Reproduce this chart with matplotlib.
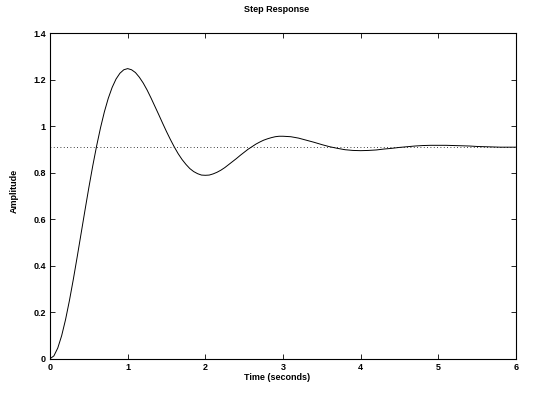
import matplotlib
matplotlib.use("Agg")
import matplotlib.pyplot as plt
import numpy as np

# step response: every 0.05 s up to 3 s, then every 0.1 s
time_s = np.concatenate([np.arange(0, 60) * 0.05, 3.0 + np.arange(0, 31) * 0.1])
amplitude = [
    0.000, 0.012, 0.046, 0.099, 0.168, 0.250, 0.341, 0.438, 0.538, 0.638,
    0.736, 0.829, 0.915, 0.993, 1.062, 1.120, 1.167, 1.203, 1.228, 1.243,
    1.248, 1.243, 1.231, 1.211, 1.186, 1.156, 1.122, 1.086, 1.050, 1.013,
    0.977, 0.943, 0.911, 0.882, 0.857, 0.836, 0.818, 0.805, 0.796, 0.790,
    0.789, 0.790, 0.795, 0.802, 0.811, 0.822, 0.835, 0.848, 0.861, 0.875,
    0.888, 0.901, 0.912, 0.923, 0.932, 0.940, 0.946, 0.951, 0.955, 0.957,
    0.957, 0.955, 0.949, 0.940, 0.931, 0.921, 0.912, 0.905, 0.899, 0.896,
    0.895, 0.896, 0.898, 0.902, 0.905, 0.909, 0.912, 0.915, 0.917, 0.918,
    0.918, 0.918, 0.917, 0.916, 0.915, 0.913, 0.912, 0.911, 0.910, 0.910,
    0.910,
]
steady_state = 0.912

x_ticks = [0, 1, 2, 3, 4, 5, 6]
y_ticks = [0, 0.2, 0.4, 0.6, 0.8, 1.0, 1.2, 1.4]
y_tick_labels = ["0", "0.2", "0.4", "0.6", "0.8", "1", "1.2", "1.4"]

plt.rcParams["font.family"] = ["Liberation Sans", "DejaVu Sans"]

fig = plt.figure(figsize=(5.4, 3.99), dpi=100)
ax = fig.add_axes([0.0926, 0.101, 0.863, 0.8156])

ax.plot(time_s, amplitude, color="black", linewidth=0.7)
ax.plot([0, 6], [steady_state, steady_state], color="black",
        linestyle=(0, (1, 3)), linewidth=0.6)

ax.set_xlim(0, 6)
ax.set_ylim(0, 1.4)
ax.set_xticks(x_ticks)
ax.set_xticklabels([str(t) for t in x_ticks])
ax.set_yticks(y_ticks)
ax.set_yticklabels(y_tick_labels)

ax.tick_params(direction="in", length=3.5, width=0.6, top=True, right=True,
               labelsize=6.5, pad=3)
for lbl in ax.get_xticklabels() + ax.get_yticklabels():
    lbl.set_fontweight("bold")
for sp in ax.spines.values():
    sp.set_linewidth(0.8)

fig.text(0.513, 1 - 10 / 399, "Step Response", ha="center", va="center",
         fontsize=6.5, fontweight="bold")
fig.text(0.513, 1 - 378 / 399, "Time (seconds)", ha="center", va="center",
         fontsize=6.5, fontweight="bold")
fig.text(14 / 540, 1 - 191 / 399, "Amplitude", ha="center", va="center",
         rotation=90, fontsize=6.5, fontweight="bold")

fig.savefig("out.png", dpi=100)
